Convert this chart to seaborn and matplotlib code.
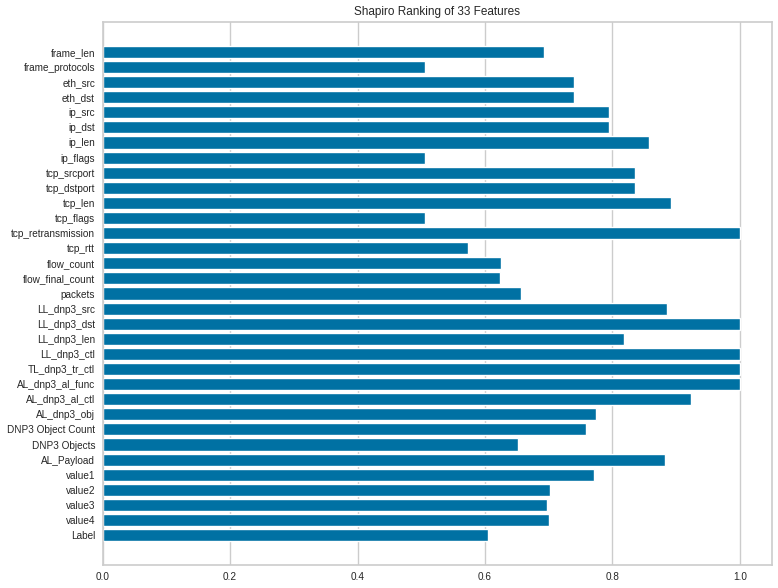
import matplotlib
matplotlib.use("Agg")
import matplotlib.pyplot as plt
import seaborn as sns
import pandas as pd

features = ["frame_len", "frame_protocols", "eth_src", "eth_dst", "ip_src", "ip_dst",
            "ip_len", "ip_flags", "tcp_srcport", "tcp_dstport", "tcp_len", "tcp_flags",
            "tcp_retransmission", "tcp_rtt", "flow_count", "flow_final_count", "packets",
            "LL_dnp3_src", "LL_dnp3_dst", "LL_dnp3_len", "LL_dnp3_ctl", "TL_dnp3_tr_ctl",
            "AL_dnp3_al_func", "AL_dnp3_al_ctl", "AL_dnp3_obj", "DNP3 Object Count",
            "DNP3 Objects", "AL_Payload", "value1", "value2", "value3", "value4", "Label"]
scores = [0.693, 0.506, 0.740, 0.740, 0.795, 0.795,
          0.857, 0.506, 0.835, 0.835, 0.892, 0.506,
          1.000, 0.573, 0.625, 0.624, 0.657,
          0.886, 1.000, 0.818, 1.000, 1.000,
          1.000, 0.923, 0.774, 0.758,
          0.652, 0.882, 0.771, 0.702, 0.697, 0.700, 0.605]
xticks = [0.0, 0.2, 0.4, 0.6, 0.8, 1.0]
title = "Shapiro Ranking of 33 Features"

df = pd.DataFrame({"feature": features, "score": scores})

sns.set_style("whitegrid", {"grid.color": "#cccccc", "axes.edgecolor": "#cccccc"})
plt.rcParams["font.family"] = ["Liberation Sans", "DejaVu Sans"]

fig = plt.figure(figsize=(7.78, 5.88), dpi=100)
ax = fig.add_axes([0.132, 0.0386, 0.8599, 0.9245])

sns.barplot(data=df, x="score", y="feature", orient="h", color="#0071A3",
            saturation=1, width=0.8, ax=ax)

ax.set_xlim(0, 1.05)
ax.set_ylim(34, -2)
ax.set_xticks(xticks)
ax.set_xticklabels([f"{t:.1f}" for t in xticks])
ax.grid(False, axis="y")
ax.grid(True, axis="x", color="#cccccc", linewidth=1)
ax.set_xlabel("")
ax.set_ylabel("")
ax.tick_params(axis="both", length=0, labelsize=7.2, colors="#262626")
ax.tick_params(axis="y", pad=5.5)
ax.tick_params(axis="x", pad=5)
for s in ax.spines.values():
    s.set_color("#cccccc")
    s.set_linewidth(1.2)
ax.set_title(title, fontsize=8.5, color="#262626", pad=4.5)

fig.savefig("out.png", dpi=100)
